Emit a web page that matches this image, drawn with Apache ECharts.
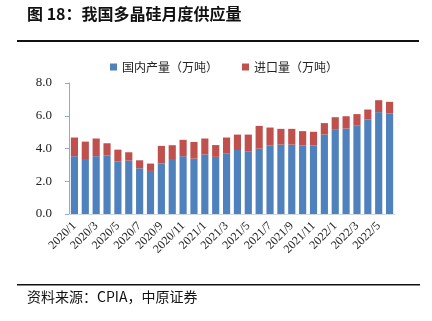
<!DOCTYPE html>
<html><head><meta charset="utf-8">
<script src="https://cdn.jsdelivr.net/npm/echarts@6/dist/echarts.min.js"></script>
<style>html,body{margin:0;padding:0;background:#fff}#c{width:432px;height:321px}</style>
</head><body><div id="c"></div>
<script>
const categories = ['2020/1','2020/2','2020/3','2020/4','2020/5','2020/6','2020/7','2020/8','2020/9','2020/10','2020/11','2020/12',
 '2021/1','2021/2','2021/3','2021/4','2021/5','2021/6','2021/7','2021/8','2021/9','2021/10','2021/11','2021/12',
 '2022/1','2022/2','2022/3','2022/4','2022/5','2022/6'];
const domestic = [3.53,3.36,3.53,3.57,3.20,3.26,2.79,2.63,3.08,3.36,3.53,3.38,3.63,3.49,3.71,3.91,3.83,3.99,4.18,4.24,4.24,4.18,4.18,4.85,5.18,5.22,5.42,5.77,6.22,6.16];
const totals = [4.67,4.42,4.61,4.32,3.93,3.77,3.28,3.08,4.16,4.20,4.53,4.40,4.61,4.21,4.67,4.85,4.85,5.38,5.28,5.20,5.20,5.06,5.02,5.55,5.91,5.97,6.10,6.38,6.95,6.85];
const imports = totals.map((t,i)=>Math.round((t-domestic[i])*100)/100);
const yTicks = ['0.0','2.0','4.0','6.0','8.0'];

const chart = echarts.init(document.getElementById('c'));
chart.setOption({
  animation:false,
  backgroundColor:'#fff',
  grid:{left:69,right:37,top:83,bottom:107},
  legend:{
    top:56,left:105,itemWidth:7,itemHeight:7,itemGap:24,
    icon:'rect',
    textStyle:{fontFamily:'Noto Sans CJK SC',fontSize:12,color:'#222'},
    data:['国内产量（万吨）','进口量（万吨）']
  },
  xAxis:{
    type:'category',data:categories,
    axisLine:{lineStyle:{color:'#d0d8e4'}},
    axisTick:{show:false},
    axisLabel:{interval:1,rotate:45,fontFamily:'Liberation Serif',fontSize:12,color:'#222',margin:10}
  },
  yAxis:{
    type:'value',min:0,max:8,interval:2,
    axisLine:{show:true,lineStyle:{color:'#8eaadb'}},
    axisTick:{show:true,length:4,lineStyle:{color:'#8eaadb'}},
    splitLine:{show:false},
    axisLabel:{fontFamily:'Liberation Serif',fontSize:13,color:'#222',margin:17,
      formatter:v=>yTicks[Math.round(v/2)]}
  },
  series:[
    {name:'国内产量（万吨）',type:'bar',stack:'a',data:domestic,barWidth:'66%',
     itemStyle:{color:'#4F81BD'}},
    {name:'进口量（万吨）',type:'bar',stack:'a',data:imports,barWidth:'66%',
     itemStyle:{color:'#C0504D'}}
  ],
  graphic:[
    {type:'text',left:27,top:6,style:{text:'图 18：我国多晶硅月度供应量',font:'bold 16px "Noto Sans CJK SC"',fill:'#111'}},
    {type:'rect',shape:{x:17,y:40,width:402,height:2},style:{fill:'#111'}},
    {type:'rect',shape:{x:17,y:284,width:403,height:1.5},style:{fill:'#111'}},
    {type:'text',left:27,top:290,style:{text:'资料来源：CPIA，中原证券',font:'14px "Noto Sans CJK SC"',fill:'#111'}}
  ]
});
</script></body></html>
